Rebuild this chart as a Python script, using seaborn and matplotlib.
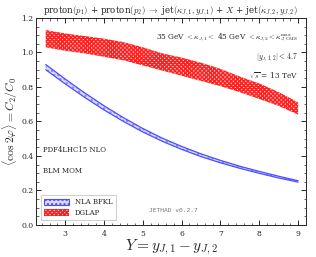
import numpy as np
import pandas as pd
import matplotlib
matplotlib.use("Agg")
import matplotlib.pyplot as plt
import seaborn as sns
from matplotlib.ticker import MultipleLocator
from matplotlib.patches import Patch

# Rapidity interval Y
Y = [2.5, 3.0, 3.5, 4.0, 4.5, 5.0, 5.5, 6.0, 6.5, 7.0, 7.5, 8.0, 8.5, 9.0]

# NLA BFKL band
bfkl_up = [0.930, 0.846, 0.766, 0.691, 0.622, 0.559, 0.503, 0.455, 0.412, 0.374, 0.340, 0.310, 0.282, 0.256]
bfkl_lo = [0.900, 0.818, 0.740, 0.667, 0.600, 0.539, 0.485, 0.438, 0.396, 0.360, 0.328, 0.299, 0.272, 0.248]

# DGLAP band
dglap_up = [1.13, 1.11, 1.095, 1.08, 1.06, 1.03, 0.995, 0.97, 0.94, 0.905, 0.86, 0.82, 0.77, 0.71]
dglap_lo = [1.03, 1.01, 0.995, 0.975, 0.955, 0.925, 0.895, 0.865, 0.835, 0.805, 0.77, 0.73, 0.69, 0.64]

sns.set_style("ticks")
plt.rcParams['font.family'] = ['DejaVu Serif']
plt.rcParams['mathtext.fontset'] = 'cm'
plt.rcParams['hatch.linewidth'] = 1.1

df = pd.DataFrame({'Y': Y, 'bfkl_up': bfkl_up, 'bfkl_lo': bfkl_lo,
                   'dglap_up': dglap_up, 'dglap_lo': dglap_lo})

fig, ax = plt.subplots(figsize=(3.16, 2.57), dpi=100)
fig.subplots_adjust(left=0.114, right=0.968, bottom=0.125, top=0.93)

blue = '#4d4dff'
red = '#ff2020'

# DGLAP band
ax.fill_between(df['Y'], df['dglap_lo'], df['dglap_up'], facecolor='#ffd0d0',
                edgecolor=red, hatch='xxxxxxxx', linewidth=0)
# BFKL band
ax.fill_between(df['Y'], df['bfkl_lo'], df['bfkl_up'], facecolor='#dcdcff',
                edgecolor='#8080ff', hatch='....', linewidth=0)
sns.lineplot(data=df, x='Y', y='bfkl_up', color=blue, lw=0.9, ax=ax)
sns.lineplot(data=df, x='Y', y='bfkl_lo', color=blue, lw=0.9, ax=ax)

ax.set_xlim(2.25, 9.2)
ax.set_ylim(0, 1.2)
ax.xaxis.set_major_locator(MultipleLocator(1))
ax.xaxis.set_minor_locator(MultipleLocator(0.2))
ax.yaxis.set_major_locator(MultipleLocator(0.2))
ax.yaxis.set_minor_locator(MultipleLocator(0.05))
ax.tick_params(which='both', direction='in', top=True, right=True, labelsize=5.5)
ax.tick_params(axis='y', pad=2)
ax.tick_params(which='major', length=3.5, width=0.7)
ax.tick_params(which='minor', length=1.8, width=0.5)
for s in ax.spines.values():
    s.set_linewidth(0.7)

ax.set_xlabel(r'$Y = y_{J,1} - y_{J,2}$', fontsize=11, labelpad=0)
ax.set_ylabel(r'$\langle \cos 2\varphi \rangle = C_2/C_0$', fontsize=8.5)
ax.yaxis.set_label_coords(-0.058, 0.5)
ax.set_title(r'proton$(p_1)$ + proton$(p_2)$ $\rightarrow$ jet$(\kappa_{J,1}, y_{J,1})$ + $X$ + jet$(\kappa_{J,2}, y_{J,2})$',
             fontsize=6.3, pad=3)

ax.text(0.97, 0.905, r'35 GeV $< \kappa_{J,1} <$ 45 GeV $< \kappa_{J,2} < \kappa_{J,{\rm CMS}}^{\rm max}$',
        transform=ax.transAxes, ha='right', va='center', fontsize=5.3)
ax.text(0.97, 0.81, r'$|y_{J,1,2}| < 4.7$', transform=ax.transAxes,
        ha='right', va='center', fontsize=5.5)
ax.text(0.97, 0.72, r'$\sqrt{s}$ = 13 TeV', transform=ax.transAxes,
        ha='right', va='center', fontsize=5.3)
ax.text(0.025, 0.36, 'PDF4LHC15 NLO', transform=ax.transAxes,
        ha='left', va='center', fontsize=5)
ax.text(0.025, 0.26, 'BLM MOM', transform=ax.transAxes,
        ha='left', va='center', fontsize=5)
ax.text(0.42, 0.07, 'JETHAD v0.2.7', transform=ax.transAxes, family='DejaVu Sans Mono',
        color='#777777', ha='left', va='center', fontsize=4.5)

handles = [Patch(facecolor='#dcdcff', edgecolor=blue, hatch='....', linewidth=0.8, label='NLA BFKL'),
           Patch(facecolor='#ffd0d0', edgecolor=red, hatch='xxxxxxxx', linewidth=0, label='DGLAP')]
leg = ax.legend(handles=handles, loc='lower left', fontsize=5, frameon=True,
                fancybox=False, edgecolor='#aaaaaa', handlelength=3.6, handleheight=1.0,
                borderpad=0.5, labelspacing=0.4, bbox_to_anchor=(0.005, 0.005))
leg.get_frame().set_linewidth(0.5)

plt.savefig('out.png', dpi=100)
plt.close()
